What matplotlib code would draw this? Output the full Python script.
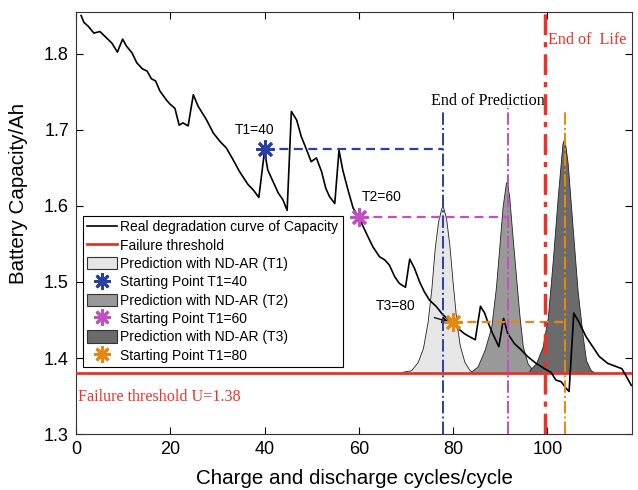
import matplotlib

matplotlib.use("Agg")
import matplotlib.pyplot as plt
from matplotlib.lines import Line2D
from matplotlib.patches import Patch

# real degradation curve (cycle, capacity Ah)
cycles = [1.1, 1.7, 2.6, 3.8, 5.1, 6.1, 7.6, 8.8, 9.9, 10.7, 11.9, 12.9, 14.1, 15.1, 16.0, 16.9,
          17.8, 19.2, 19.9, 21.0, 21.9, 22.7, 23.8, 24.9, 25.9, 27.7, 29.1, 30.5, 31.9, 33.3, 34.7,
          36.5, 37.6, 38.8, 40.0, 40.7, 41.8, 42.9, 43.9, 44.8, 45.7, 46.8, 47.8, 48.9, 49.9, 51.0,
          52.1, 53.0, 53.8, 54.9, 55.8, 56.6, 57.7, 58.8, 60.0, 60.9, 61.9, 63.0, 64.4, 65.5, 66.5,
          67.6, 68.6, 69.9, 70.8, 71.8, 72.9, 73.9, 75.0, 76.4, 77.8, 79.2, 80.0, 81.0, 82.4, 83.5,
          84.7, 85.8, 86.7, 87.2, 88.4, 89.7, 90.7, 91.6, 93.0, 94.4, 95.8, 97.6, 99.4, 100.8, 101.8,
          102.9, 104.0, 104.6, 105.6, 106.8, 108.2, 109.6, 111.0, 112.8, 114.5, 115.8, 117.0, 117.8]
capacity = [1.850, 1.841, 1.836, 1.827, 1.829, 1.823, 1.814, 1.802, 1.819, 1.810, 1.801, 1.788,
            1.780, 1.777, 1.767, 1.764, 1.751, 1.739, 1.734, 1.728, 1.706, 1.709, 1.705, 1.746,
            1.731, 1.713, 1.696, 1.685, 1.676, 1.661, 1.645, 1.628, 1.621, 1.611, 1.672, 1.647,
            1.632, 1.617, 1.608, 1.594, 1.724, 1.713, 1.691, 1.674, 1.658, 1.663, 1.645, 1.623,
            1.612, 1.603, 1.673, 1.647, 1.621, 1.597, 1.585, 1.573, 1.560, 1.546, 1.533, 1.529,
            1.522, 1.507, 1.498, 1.493, 1.530, 1.518, 1.500, 1.487, 1.476, 1.468, 1.457, 1.450,
            1.446, 1.439, 1.432, 1.428, 1.424, 1.468, 1.459, 1.450, 1.432, 1.415, 1.452, 1.432,
            1.419, 1.411, 1.402, 1.393, 1.386, 1.381, 1.371, 1.369, 1.360, 1.356, 1.459, 1.446,
            1.428, 1.415, 1.402, 1.393, 1.389, 1.386, 1.373, 1.364]

threshold = 1.38
end_of_life = 99.5

# predicted distributions (outline)
pred1_x = [69.3, 71.1, 72.5, 73.6, 74.6, 75.4, 76.1, 76.8, 77.5, 77.8, 78.5, 79.2, 79.9, 80.7,
           81.4, 82.4, 83.5, 84.5]
pred1_y = [1.382, 1.384, 1.395, 1.413, 1.448, 1.492, 1.544, 1.579, 1.597, 1.600, 1.584, 1.549,
           1.500, 1.448, 1.417, 1.395, 1.384, 1.380]
pred2_x = [83.8, 85.2, 86.7, 88.1, 89.1, 89.8, 90.5, 91.2, 91.4, 91.9, 92.6, 93.4, 94.1, 94.8,
           95.8, 96.9]
pred2_y = [1.382, 1.389, 1.411, 1.441, 1.494, 1.546, 1.599, 1.630, 1.632, 1.612, 1.560, 1.503,
           1.454, 1.415, 1.393, 1.384]
pred3_x = [96.2, 97.6, 99.0, 100.1, 101.1, 102.2, 103.2, 103.6, 104.3, 105.4, 106.4, 107.5,
           108.2, 109.2, 110.3]
pred3_y = [1.384, 1.393, 1.415, 1.454, 1.525, 1.612, 1.682, 1.689, 1.656, 1.568, 1.489, 1.428,
           1.397, 1.384, 1.380]

# starting points and ends of prediction
start_x = [40, 60, 80]
start_y = [1.675, 1.585, 1.447]
end_pred_x = [77.8, 91.7, 103.7]
end_pred_top = [1.724, 1.729, 1.724]
start_labels = ["T1=40", "T2=60", "T3=80"]

BLUE, MAGENTA, ORANGE, RED = "#2b3ea3", "#c24fc4", "#e8870f", "#e8332b"
pred_colors = ["#e6e6e6", "#999999", "#6b6b6b"]
star_colors = [BLUE, MAGENTA, ORANGE]
ASTER = (8, 2, 0)

plt.rcParams["font.family"] = ["Liberation Sans", "DejaVu Sans"]
fig = plt.figure(figsize=(6.38, 4.90), dpi=100)
ax = fig.add_axes([0.119, 0.114, 0.872, 0.862])

for (px, py), col in zip([(pred1_x, pred1_y), (pred2_x, pred2_y), (pred3_x, pred3_y)], pred_colors):
    ax.fill_between(px, threshold, py, facecolor=col, edgecolor="#222222", linewidth=0.6, zorder=2)

ax.axhline(threshold, color=RED, linewidth=2, zorder=3)
ax.plot(cycles, capacity, color="black", linewidth=1.2, zorder=4)

for sx, sy, ex, top, c in zip(start_x, start_y, end_pred_x, end_pred_top, star_colors):
    ax.plot([sx, ex], [sy, sy], color=c, linestyle=(0, (4, 2.5)), linewidth=1.6, zorder=5)
    ax.plot([ex, ex], [1.3, top], color=c, linestyle="-.", linewidth=1.4, zorder=5)
    ax.plot(sx, sy, marker=ASTER, markersize=13, markeredgewidth=2, color=c, zorder=6)

ax.axvline(end_of_life, color=RED, linestyle=(0, (6, 2, 1.5, 2)), linewidth=2.5, zorder=5)

ax.text(37.9, 1.699, start_labels[0], fontsize=10, ha="center", va="center")
ax.text(64.8, 1.612, start_labels[1], fontsize=10, ha="center", va="center")
ax.annotate(start_labels[2], xy=(start_x[2] - 0.6, start_y[2]), xytext=(67.8, 1.468),
            fontsize=10, ha="center", va="center",
            arrowprops=dict(arrowstyle="-|>", color="black", lw=0.9, mutation_scale=10,
                            shrinkA=12, shrinkB=1))
ax.text(87.3, 1.738, "End of Prediction", family="Liberation Serif", fontsize=11.6,
        ha="center", va="center")
ax.text(108.5, 1.818, "End of  Life", family="Liberation Serif", fontsize=11.6, color=RED,
        ha="center", va="center")
ax.text(0.5, 1.349, "Failure threshold U=1.38", family="Liberation Serif", fontsize=11.6,
        color=RED, ha="left", va="center")

handles = [
    Line2D([], [], color="black", linewidth=1.2),
    Line2D([], [], color=RED, linewidth=2),
    Patch(facecolor=pred_colors[0], edgecolor="#333333", linewidth=0.8),
    Line2D([], [], linestyle="", marker=ASTER, markersize=12, markeredgewidth=2, color=BLUE),
    Patch(facecolor=pred_colors[1], edgecolor="#333333", linewidth=0.8),
    Line2D([], [], linestyle="", marker=ASTER, markersize=12, markeredgewidth=2, color=MAGENTA),
    Patch(facecolor=pred_colors[2], edgecolor="#333333", linewidth=0.8),
    Line2D([], [], linestyle="", marker=ASTER, markersize=12, markeredgewidth=2, color=ORANGE),
]
labels = ["Real degradation curve of Capacity", "Failure threshold",
          "Prediction with ND-AR (T1)", "Starting Point T1=40",
          "Prediction with ND-AR (T2)", "Starting Point T1=60",
          "Prediction with ND-AR (T3)", "Starting Point T1=80"]
leg = ax.legend(handles, labels, loc="lower left", bbox_to_anchor=(0.012, 0.158), fontsize=10,
                frameon=True, fancybox=False, edgecolor="black", framealpha=1,
                handlelength=2.1, handleheight=1.0, handletextpad=0.25, labelspacing=0.31,
                borderpad=0.35, borderaxespad=0)
leg.get_frame().set_linewidth(0.8)
leg.set_zorder(7)

ax.set_xlim(0, 118)
ax.set_ylim(1.3, 1.855)
ax.set_xticks([0, 20, 40, 60, 80, 100])
ax.set_yticks([1.3, 1.4, 1.5, 1.6, 1.7, 1.8])
ax.tick_params(direction="in", top=True, right=True, length=5, labelsize=13, pad=5)
for s in ax.spines.values():
    s.set_color("#333333")
ax.set_xlabel("Charge and discharge cycles/cycle", fontsize=14.8, labelpad=8)
ax.set_ylabel("Battery Capacity/Ah", fontsize=14.8, labelpad=6)
ax.yaxis.set_label_coords(-0.086, 0.57)

fig.savefig("out.png", dpi=100)
